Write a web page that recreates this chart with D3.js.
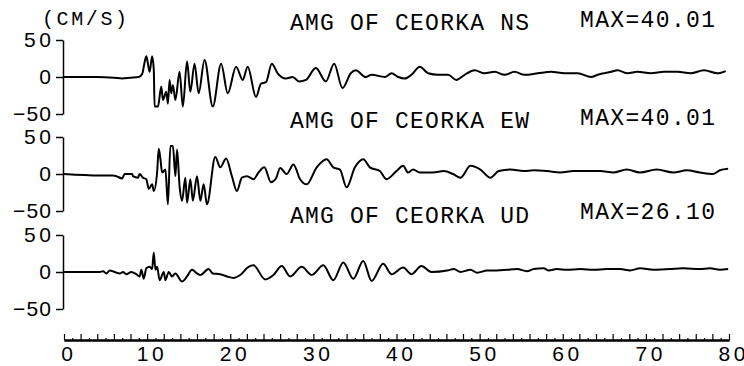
<!DOCTYPE html>
<html>
<head>
<meta charset="utf-8">
<script src="https://cdn.jsdelivr.net/npm/d3@7"></script>
<style>
  body { margin: 0; background: #fff; }
  svg { display: block; }
</style>
</head>
<body>
<svg id="chart" width="744" height="366"></svg>
<script>
// velocity traces, [time (s), value (cm/s)]
var nsWave = [[0,0],[4,0],[6,-1],[7,-2],[8,-1],[9,0],[9.4,4],[9.7,20],[9.9,28],[10.1,18],[10.3,7],[10.6,28],[10.8,10],[10.9,-40],[11.3,-40],[11.7,-13],[11.9,-31],[12.3,-20],[12.5,-36],[12.7,-4],[12.9,-22],[13.1,-11],[13.4,-31],[13.9,7],[14.3,-40],[14.8,21],[15.2,-20],[15.7,18],[16.2,-22],[16.9,23],[17.9,-40],[18.9,18],[19.7,-22],[20.7,14],[21.5,-4],[22.1,14],[23.1,-27],[23.7,-9],[24.3,-7],[25.0,18],[25.7,5],[26.7,-2],[27.5,0],[28.3,-6],[29.1,-4],[30.3,12],[31.5,-6],[32.5,18],[33.5,-15],[34.5,5],[35.1,9],[36.3,0],[37.0,3],[38.6,0],[39.4,5],[40.2,0],[41.0,-2],[41.8,3],[42.8,14],[43.8,5],[45.0,3],[46.2,3],[47.2,-4],[48.2,3],[49.4,9],[50.6,5],[51.8,7],[53.0,3],[54.2,7],[55.4,3],[57.0,5],[58.6,7],[60.2,5],[61.8,5],[63.4,0],[64.2,3],[65.8,7],[66.6,9],[67.8,5],[69.0,7],[70.6,5],[72.2,7],[73.8,7],[75.4,5],[77.0,9],[78.6,5],[79.6,8]];

var ewWave = [[0,0],[4.3,-2],[5.9,-2],[6.3,-3],[7.0,-6],[7.3,0],[8.2,0],[8.3,-3],[8.9,-5],[9.1,0],[9.5,-5],[9.9,-7],[10.2,-20],[10.6,-14],[10.8,-23],[11.2,2],[11.4,34],[11.6,20],[11.8,2],[12.2,6],[12.5,-41],[12.8,38],[13.1,38],[13.4,-3],[13.6,33],[13.9,-16],[14.2,-36],[14.6,-5],[14.8,-39],[15.2,-7],[15.5,-36],[16.0,-3],[16.4,-36],[16.8,-14],[17.2,-41],[18.2,23],[18.8,9],[19.5,21],[20.2,-3],[20.8,-23],[21.4,-5],[22.0,-3],[22.8,-7],[23.4,2],[24.1,9],[24.9,-11],[25.5,-6],[26.0,8],[26.8,0],[27.6,13],[28.4,-7],[29.2,-14],[30.4,9],[31.6,20],[32.4,9],[33.2,6],[34.0,-18],[35.0,9],[36.0,20],[36.8,9],[38.0,4],[38.8,-7],[40.0,4],[40.8,11],[41.4,2],[42.0,6],[42.8,2],[44.4,2],[45.7,4],[46.8,0],[47.7,-5],[48.9,11],[50.1,6],[51.3,-5],[52.3,4],[53.7,6],[55.3,4],[56.5,5],[58.1,4],[59.7,2],[61.3,4],[62.9,4],[64.5,4],[66.1,2],[67.7,6],[69.3,2],[71.3,6],[73.3,2],[74.9,5],[76.5,2],[78.1,0],[78.9,5],[79.9,7]];

var udWave = [[0,0],[4.3,0],[4.7,1],[5.1,-2],[5.5,2],[6.1,0],[6.7,-2],[7.1,0],[7.5,-3],[8.1,0],[8.7,-3],[9.1,-6],[9.3,3],[9.6,-9],[9.9,5],[10.3,7],[10.6,4],[10.8,26],[11.0,3],[11.2,7],[11.5,-11],[12.0,0],[12.2,-11],[12.6,0],[13.0,-6],[13.4,-2],[14.2,-13],[14.8,-6],[15.4,3],[16.0,-2],[16.4,-4],[17.4,4],[17.9,-2],[18.8,-3],[19.6,-6],[20.4,-8],[21.2,-4],[22.2,7],[22.8,9],[24.2,-10],[25.2,-4],[26.2,8],[27.2,-6],[28.6,7],[29.8,-4],[31.2,9],[32.4,-11],[33.6,13],[34.8,-9],[36.0,15],[37.0,-12],[38.4,11],[39.4,-3],[40.8,6],[41.8,-3],[43.0,8],[44.2,0],[46.1,2],[46.9,4],[47.7,0],[48.9,3],[49.7,-1],[50.9,2],[52.1,2],[53.3,3],[54.5,4],[55.7,1],[56.5,4],[57.7,5],[58.3,2],[59.3,4],[60.5,3],[62.1,4],[63.7,3],[65.3,4],[66.9,4],[68.1,2],[69.3,5],[70.9,3],[72.9,4],[74.5,5],[76.5,4],[77.7,5],[78.9,3],[79.9,4]];

var titles = ["AMG OF CEORKA NS", "AMG OF CEORKA EW", "AMG OF CEORKA UD"];
var maxLabels = ["MAX=40.01", "MAX=40.01", "MAX=26.10"];
var yTicks = [-50, 0, 50];
var xLabels = [0, 10, 20, 30, 40, 50, 60, 70, 80];

var svg = d3.select("#chart");
var x = d3.scaleLinear().domain([0, 80]).range([64, 729]);

var panels = [
  {wave: nsWave, zero: 77, titleY: 30, maxY: 27},
  {wave: ewWave, zero: 174, titleY: 128, maxY: 125},
  {wave: udWave, zero: 272, titleY: 223, maxY: 219}
];

var line = d3.line().curve(d3.curveMonotoneX);

panels.forEach(function(p, i){
  var y = d3.scaleLinear().domain([-50, 50]).range([p.zero + 37, p.zero - 37]);
  var g = svg.append("g");

  var ax = g.append("g")
    .attr("transform", "translate(63,0)")
    .call(d3.axisLeft(y).tickValues(yTicks).tickSize(7).tickSizeOuter(0).tickPadding(5));
  ax.select(".domain").attr("stroke", "#000").attr("stroke-width", 1.5);
  ax.selectAll(".tick line").attr("stroke", "#000").attr("stroke-width", 1.5);
  ax.selectAll("text")
    .attr("font-family", "Liberation Sans, Arial, sans-serif")
    .attr("font-size", 21)
    .attr("fill", "#000")
    .attr("textLength", function(d){ return d === 0 ? null : (d > 0 ? 27 : 38); })
    .attr("lengthAdjust", "spacing");

  g.append("path")
    .datum(p.wave)
    .attr("fill", "none")
    .attr("stroke", "#000")
    .attr("stroke-width", 2)
    .attr("stroke-linejoin", "round")
    .attr("d", line.x(function(d){ return x(d[0]); }).y(function(d){ return y(d[1]); }));

  g.append("text")
    .attr("x", 290).attr("y", p.titleY)
    .attr("font-family", "Liberation Mono, monospace")
    .attr("font-size", 23)
    .attr("textLength", 239).attr("lengthAdjust", "spacing")
    .text(titles[i]);

  g.append("text")
    .attr("x", 580).attr("y", p.maxY)
    .attr("font-family", "Liberation Mono, monospace")
    .attr("font-size", 23)
    .attr("textLength", 135).attr("lengthAdjust", "spacing")
    .text(maxLabels[i]);
});

svg.append("text")
  .attr("x", 42).attr("y", 25)
  .attr("font-family", "Liberation Mono, monospace")
  .attr("font-size", 20)
  .attr("textLength", 85).attr("lengthAdjust", "spacing")
  .text("(CM/S)");

// time axis: ticks point up, labels below
var xAxisY = 340;
var minor = svg.append("g")
  .attr("transform", "translate(0," + xAxisY + ")")
  .call(d3.axisTop(x).tickValues(d3.range(1, 80, 2)).tickSize(2).tickSizeOuter(0).tickFormat(""));
var major = svg.append("g")
  .attr("transform", "translate(0," + xAxisY + ")")
  .call(d3.axisTop(x).tickValues(d3.range(0, 81, 2)).tickSize(6).tickSizeOuter(0).tickFormat(""));
[minor, major].forEach(function(a){
  a.select(".domain").attr("stroke", "#000").attr("stroke-width", 2.2);
  a.selectAll(".tick line").attr("stroke", "#000").attr("stroke-width", 1.2);
});

svg.append("g")
  .selectAll("text")
  .data(xLabels)
  .enter()
  .append("text")
  .attr("x", function(d){ return x(d) + 3; })
  .attr("y", 361)
  .attr("text-anchor", "middle")
  .attr("font-family", "Liberation Sans, Arial, sans-serif")
  .attr("font-size", 21)
  .attr("textLength", function(d){ return d === 0 ? null : 27; })
  .attr("lengthAdjust", "spacing")
  .text(function(d){ return d; });
</script>
</body>
</html>
